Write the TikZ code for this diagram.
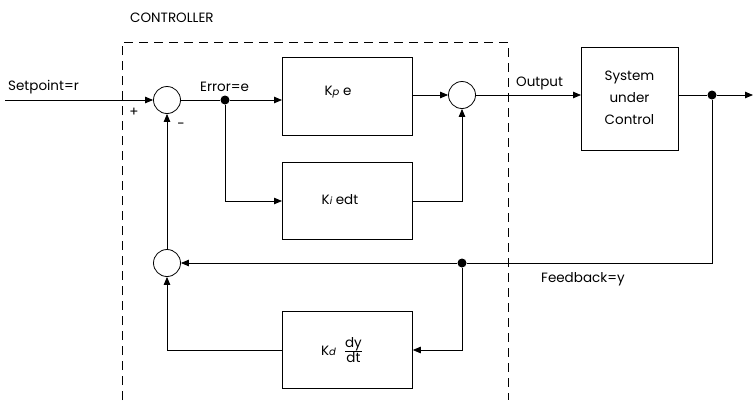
\documentclass[tikz,border=0pt]{standalone}
\usepackage{fontspec}
\setmainfont{Poppins}
\usetikzlibrary{arrows.meta}
\tikzset{
  blk/.style={draw, line width=0.8pt, minimum width=130pt, anchor=north west, inner sep=0pt},
  sumc/.style={draw, circle, line width=0.8pt, minimum size=27pt, inner sep=0pt},
  dotn/.style={fill, circle, minimum size=9pt, inner sep=0pt},
  conn/.style={line width=0.8pt},
  arr/.style={conn, -{Triangle[length=8pt,width=6.5pt]}},
  lbl/.style={font=\fontsize{13.5pt}{15pt}\selectfont, inner sep=0pt},
  bdry/.style={line width=0.7pt, dash pattern=on 9pt off 6pt}
}
\newcommand{\subi}[1]{{\fontsize{10pt}{11pt}\selectfont\itshape #1}}
\begin{document}
\begin{tikzpicture}[x=1pt,y=-1pt]
\useasboundingbox (0,0) rectangle (753,400);
% controller boundary
\draw[bdry] (122,400) -- (122,42) -- (508,42) -- (508,400);
\node[lbl, anchor=west] (ctl) at (130,18) {CONTROLLER};
% blocks
\node[blk, minimum height=78pt] (kp) at (282,57) {};
\node[lbl] (kptxt) at (338,92) {K\subi{p} e};
\node[blk, minimum height=77pt] (ki) at (282,162) {};
\node[lbl] (kitxt) at (340,200) {K\subi{i} edt};
\node[blk, minimum height=77pt] (kd) at (282,311) {};
\node[lbl] (kdtxt) at (342,350) {K\subi{d}\hspace{8pt}$\frac{\hbox{dy}}{\hbox{dt}}$};
\node[blk, minimum width=97pt, minimum height=103pt] (sys) at (581,47) {};
\node[lbl, align=center, font=\fontsize{13.5pt}{22pt}\selectfont] (systxt) at (629.5,98) {System\\under\\Control};
% summing junctions
\node[sumc] (s1) at (167,100) {};
\node[sumc] (s2) at (462,95) {};
\node[sumc] (s3) at (167,263) {};
% dots
\node[dotn] (de) at (225,100) {};
\node[dotn] (dy) at (712,95) {};
\node[dotn] (df) at (462,263) {};
\coordinate (start) at (5,100);
\coordinate (fin) at (753,95);
% connectors
\draw[arr] (start) -- (s1.west);
\draw[conn] (s1.east) -- (de);
\draw[arr] (de) -- (kp.west |- de);
\draw[arr] (de) |- (ki.west |- 0,201);
\draw[arr] (kp.east |- s2) -- (s2.west);
\draw[arr] (ki.east |- 0,201) -| (s2.south);
\draw[arr] (s2.east) -- (sys.west |- s2);
\draw[conn] (sys.east |- dy) -- (dy);
\draw[arr] (dy) -- (fin);
\draw[conn] (dy) |- (df);
\draw[arr] (df) -- (s3.east);
\draw[arr] (df) |- (kd.east |- 0,350);
\draw[arr] (kd.west |- 0,350) -| (s3.south);
\draw[arr] (s3.north) -- (s1.south);
% labels
\node[lbl, anchor=west] (lsp) at (8,87) {Setpoint=r};
\node[lbl, anchor=west] (lerr) at (200,87) {Error=e};
\node[lbl, anchor=west] (lout) at (516,83) {Output};
\node[lbl, anchor=west] (lfb) at (541,279) {Feedback=y};
\node[lbl] (lplus) at (134,112) {+};
\node[lbl] (lminus) at (181,126) {-};
\end{tikzpicture}
\end{document}
